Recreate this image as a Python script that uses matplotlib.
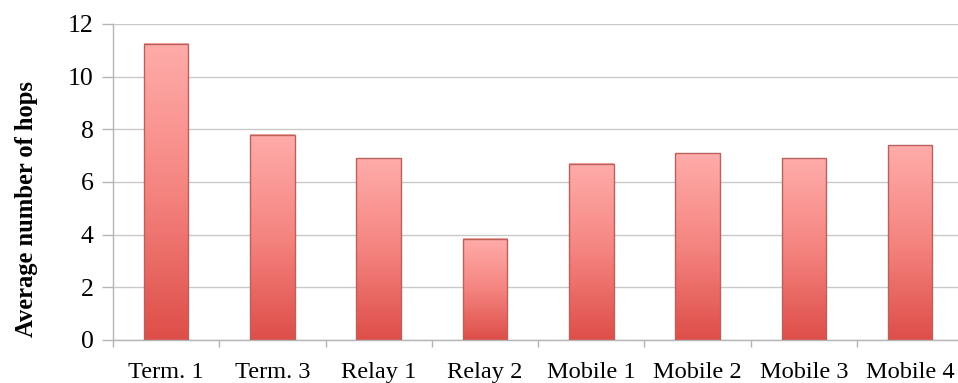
import numpy as np
import matplotlib
matplotlib.use("Agg")
import matplotlib.pyplot as plt
from matplotlib.colors import LinearSegmentedColormap

categories = ["Term. 1", "Term. 3", "Relay 1", "Relay 2",
              "Mobile 1", "Mobile 2", "Mobile 3", "Mobile 4"]
avg_hops = [11.25, 7.8, 6.9, 3.85, 6.7, 7.1, 6.9, 7.4]
y_ticks = [0, 2, 4, 6, 8, 10, 12]

plt.rcParams["font.family"] = ["Liberation Serif", "DejaVu Serif"]

fig = plt.figure(figsize=(9.58, 3.83), dpi=100)
ax = fig.add_axes([113 / 958, 43 / 383, 845 / 958, 316 / 383])

cmap = LinearSegmentedColormap.from_list("bar_grad", ["#de4e49", "#f5847f", "#ffacaa"])
grad = np.linspace(0, 1, 256).reshape(-1, 1)

x = np.arange(len(categories))
width = 0.42
bars = ax.bar(x, avg_hops, width=width, facecolor="none",
              edgecolor="#b8625e", linewidth=1.0, zorder=3)
for bar in bars:
    x0, y0 = bar.get_x(), bar.get_y()
    w, h = bar.get_width(), bar.get_height()
    ax.imshow(grad, cmap=cmap, origin="lower", aspect="auto",
              extent=(x0, x0 + w, y0, y0 + h), zorder=2, interpolation="bicubic")

ax.set_xlim(-0.5, 7.45)
ax.set_ylim(0, 12)
ax.set_yticks(y_ticks)
ax.set_yticklabels([str(t) for t in y_ticks])
ax.set_xticks(x)
ax.set_xticklabels(categories)
ax.set_xticks(np.arange(-0.5, 7.5, 1.0), minor=True)

ax.grid(axis="y", color="#c9c9c9", linewidth=1.0, zorder=0)
ax.set_axisbelow(True)

for side in ("top", "right"):
    ax.spines[side].set_visible(False)
for side in ("left", "bottom"):
    ax.spines[side].set_color("#b5b5b5")
    ax.spines[side].set_linewidth(1.0)

ax.tick_params(axis="x", which="major", length=0, pad=16, labelsize=17.6)
ax.tick_params(axis="x", which="minor", length=5, color="#b5b5b5", width=1.0)
ax.tick_params(axis="y", which="major", length=8, color="#b5b5b5", width=1.0,
               pad=6, labelsize=18.5)

ax.set_ylabel("Average number of hops", fontsize=17.7, fontweight="bold")
ax.yaxis.set_label_coords(-75 / 845, (340 - 209) / 316)

fig.savefig("out.png", dpi=100)
